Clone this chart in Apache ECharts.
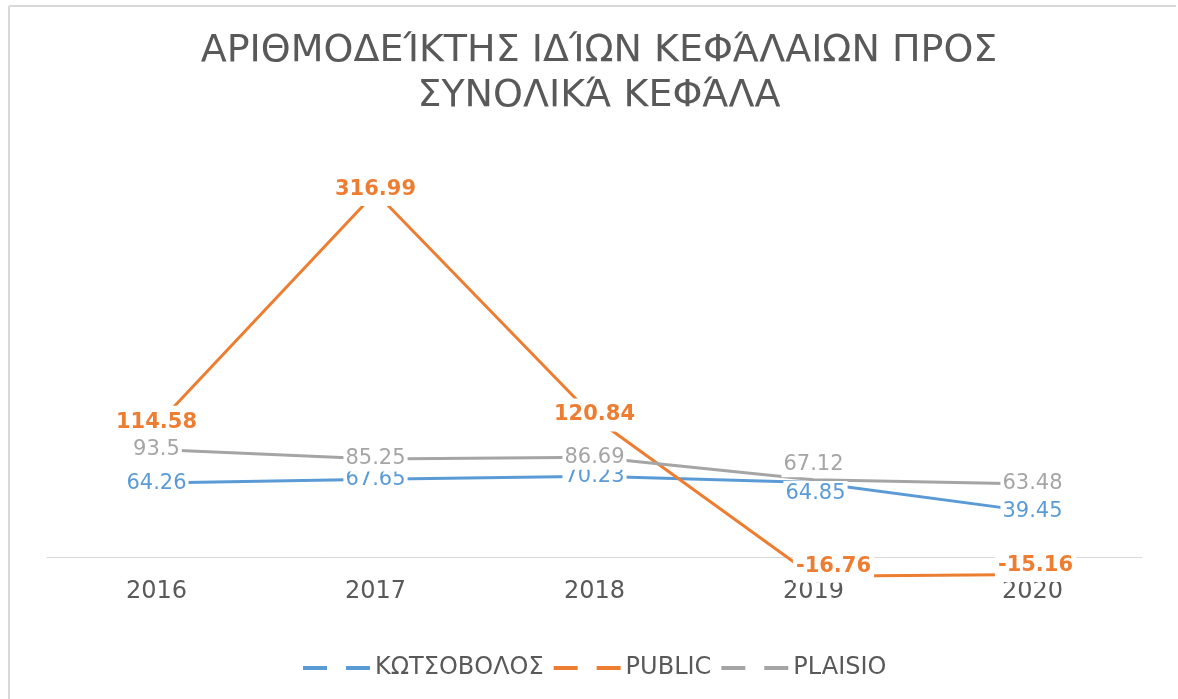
<!DOCTYPE html>
<html lang="el">
<head>
  <meta charset="UTF-8">
  <title>Αριθμοδείκτης ιδίων κεφαλαίων</title>
  <script src="https://cdn.jsdelivr.net/npm/echarts@6/dist/echarts.min.js"></script>
  <style>
    body { margin: 0; background: #fff; }
    #chart { width: 1178px; height: 699px; }
  </style>
</head>
<body>
  <div id="chart"></div>
  <script>
    const years = ['2016', '2017', '2018', '2019', '2020'];
    const kotsovolos = [64.26, 67.65, 70.23, 64.85, 39.45];
    const publicVals = [114.58, 316.99, 120.84, -16.76, -15.16];
    const plaisio = [93.5, 85.25, 86.69, 67.12, 63.48];

    const chart = echarts.init(document.getElementById('chart'));
    const font = '"DejaVu Sans", sans-serif';

    // legend icon: two short dashes like the excel legend
    const dashIcon = 'path://M0,0H24V4H0Z M43,0H67V4H43Z';

    function baseLabel(color, bold) {
      return {
        show: true,
        position: 'inside',
        color: color,
        fontFamily: font,
        fontSize: 21,
        fontWeight: bold ? 'bold' : 'normal',
        backgroundColor: '#fff',
        padding: [2, 2]
      };
    }

    const option = {
      backgroundColor: '#fff',
      animation: false,
      title: {
        text: 'ΑΡΙΘΜΟΔΕΊΚΤΗΣ ΙΔΊΩΝ ΚΕΦΆΛΑΙΩΝ ΠΡΟΣ\nΣΥΝΟΛΙΚΆ ΚΕΦΆΛΑ',
        left: 594,
        top: 24,
        textAlign: 'center',
        textStyle: {
          fontFamily: font,
          fontSize: 38,
          fontWeight: 'normal',
          color: '#595959',
          lineHeight: 45
        }
      },
      legend: {
        data: ['ΚΩΤΣΟΒΟΛΟΣ', 'PUBLIC', 'PLAISIO'],
        left: 298,
        top: 651,
        icon: dashIcon,
        itemWidth: 67,
        itemHeight: 4,
        itemGap: 10,
        textStyle: { fontFamily: font, fontSize: 24, color: '#595959' }
      },
      grid: { left: 47, right: 36, top: 154.5, bottom: 119 },
      xAxis: {
        type: 'category',
        data: years,
        axisLine: { onZero: true, lineStyle: { color: '#d9d9d9', width: 1 } },
        axisTick: { show: false },
        axisLabel: { margin: 0, fontFamily: font, fontSize: 24, color: '#595959' }
      },
      yAxis: {
        type: 'value',
        min: -20,
        max: 350,
        show: false,
        splitLine: { show: false }
      },
      graphic: [
        { type: 'line', shape: { x1: 9, y1: 6, x2: 9, y2: 699 }, style: { stroke: '#d9d9d9', lineWidth: 2 } },
        { type: 'line', shape: { x1: 9, y1: 6, x2: 1176, y2: 6 }, style: { stroke: '#d9d9d9', lineWidth: 2 } }
      ],
      series: [
        {
          name: 'ΚΩΤΣΟΒΟΛΟΣ',
          type: 'line',
          data: kotsovolos.map((v, i) => i === 3 ? { value: v, label: { offset: [2, 11] } } : v),
          symbol: 'circle',
          symbolSize: 2,
          lineStyle: { color: '#5b9bd5', width: 3 },
          itemStyle: { color: '#5b9bd5' },
          label: baseLabel('#5b9bd5', false)
        },
        {
          name: 'PUBLIC',
          type: 'line',
          data: publicVals.map((v, i) => i === 3 ? { value: v, label: { offset: [20, -10] } }
            : i === 4 ? { value: v, label: { offset: [3, -9] } } : v),
          symbol: 'circle',
          symbolSize: 2,
          lineStyle: { color: '#ed7d31', width: 3 },
          itemStyle: { color: '#ed7d31' },
          label: Object.assign(baseLabel('#ed7d31', true), { offset: [0, -3], padding: [6, 3] })
        },
        {
          name: 'PLAISIO',
          type: 'line',
          data: plaisio.map((v, i) => i === 3 ? { value: v, label: { offset: [0, -15] } } : v),
          symbol: 'circle',
          symbolSize: 2,
          lineStyle: { color: '#a5a5a5', width: 3 },
          itemStyle: { color: '#a5a5a5' },
          label: baseLabel('#a5a5a5', false)
        }
      ]
    };

    chart.setOption(option);
  </script>
</body>
</html>
